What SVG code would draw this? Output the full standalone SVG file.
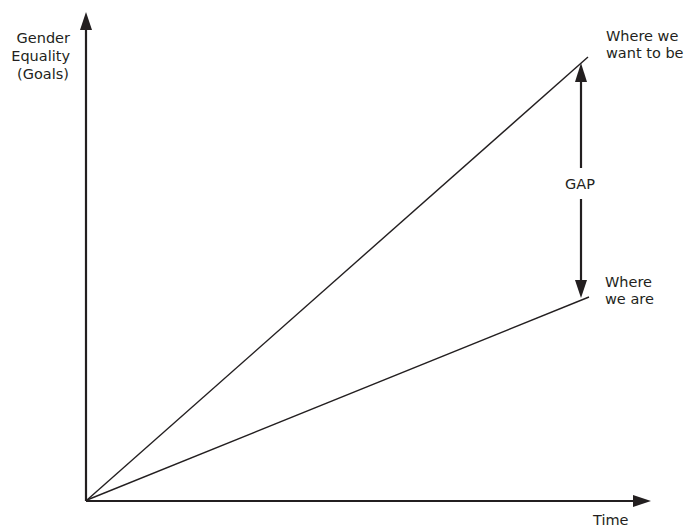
<svg xmlns="http://www.w3.org/2000/svg" width="688" height="528" viewBox="0 0 688 528">
<style>
text{font-family:"DejaVu Sans","Liberation Sans",sans-serif;font-size:14.5px;fill:#231f20}
.ax{stroke:#231f20;stroke-width:2.2;fill:none}
.ln{stroke:#231f20;stroke-width:1.4;fill:none}
.ah{fill:#231f20}
</style>
<rect width="688" height="528" fill="#fff"/>
<g id="connectors">
<line class="ax" x1="86" y1="501" x2="86" y2="28"/>
<polygon class="ah" points="86,12 80,30 92,30"/>
<line class="ax" x1="86" y1="501" x2="634" y2="501"/>
<polygon class="ah" points="651,501 633,495 633,507"/>
<line class="ln" x1="87" y1="500" x2="588" y2="57"/>
<line class="ln" x1="87" y1="500" x2="589" y2="297"/>
<line class="ax" x1="581" y1="80" x2="581" y2="168"/>
<line class="ax" x1="581" y1="199" x2="581" y2="282"/>
<polygon class="ah" points="581,63 575,82 587,82"/>
<polygon class="ah" points="581,298 575,280 587,280"/>
</g>
<g id="y-label">
<text x="70" y="43" text-anchor="end">Gender</text>
<text x="70" y="61" text-anchor="end">Equality</text>
<text x="69" y="79" text-anchor="end">(Goals)</text>
</g>
<g id="x-label"><text x="593" y="525">Time</text></g>
<g id="goal-label">
<text x="606" y="41">Where we</text>
<text x="606" y="58">want to be</text>
</g>
<g id="current-label">
<text x="605" y="287">Where</text>
<text x="605" y="304">we are</text>
</g>
<g id="gap-label"><text x="580" y="189" text-anchor="middle">GAP</text></g>
</svg>
